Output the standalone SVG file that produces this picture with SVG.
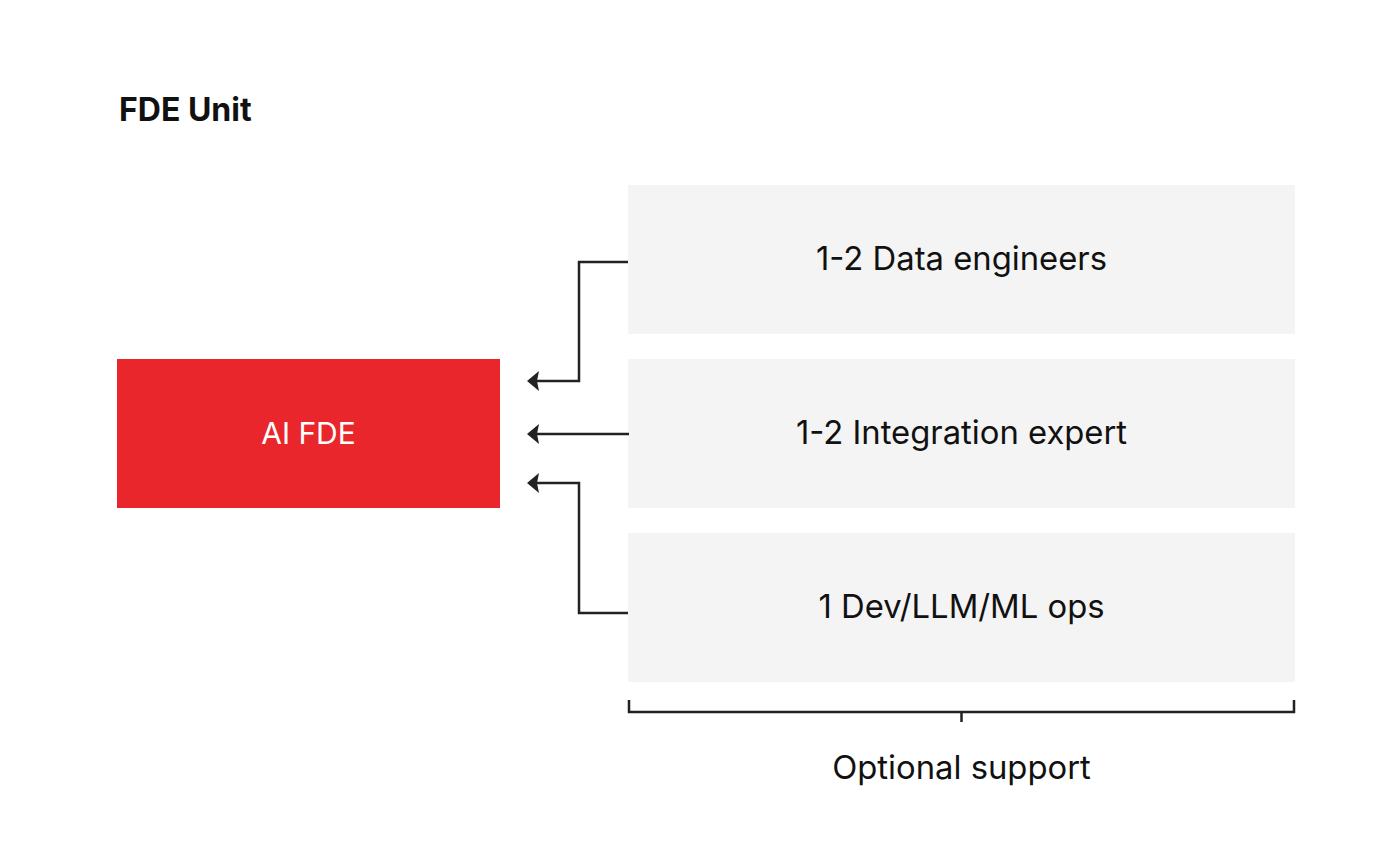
<svg xmlns="http://www.w3.org/2000/svg" xmlns:xlink="http://www.w3.org/1999/xlink" width="1373" height="863" viewBox="0 0 1373 863">
<style>
.box{fill:#f4f4f4}
.lbl{font-family:Inter,"Liberation Sans",sans-serif;font-size:32.8px;fill:#111;text-anchor:middle}
.conn{fill:none;stroke:#222;stroke-width:2.5}
.head{fill:#222}
</style>
<defs>
<path id="ah" class="head" d="M0,0 L12,-10 L10,0 L12,10 Z"/>
</defs>
<rect width="1373" height="863" fill="#fff"/>
<text x="119" y="121" font-family="Inter,'Liberation Sans',sans-serif" font-size="32" font-weight="700" fill="#111">FDE Unit</text>
<g id="ai-fde">
<rect x="117" y="359" width="383" height="149" fill="#e9262c"/>
<text x="308.5" y="444" font-family="Inter,'Liberation Sans',sans-serif" font-size="30" fill="#fff" text-anchor="middle">AI FDE</text>
</g>
<g id="data-engineers">
<rect class="box" x="628" y="185" width="667" height="149"/>
<text x="961.5" y="270" class="lbl">1-2 Data engineers</text>
</g>
<g id="integration-expert">
<rect class="box" x="628" y="359" width="667" height="149"/>
<text x="961.5" y="444" class="lbl">1-2 Integration expert</text>
</g>
<g id="devops">
<rect class="box" x="628" y="533" width="667" height="149"/>
<text x="961.5" y="618" class="lbl">1 Dev/LLM/ML ops</text>
</g>
<g id="connectors">
<path class="conn" d="M628,262 H579 V381 H534"/>
<use xlink:href="#ah" href="#ah" x="527" y="381"/>
<path class="conn" d="M629,434 H534"/>
<use xlink:href="#ah" href="#ah" x="527" y="434"/>
<path class="conn" d="M628,613 H579 V483 H534"/>
<use xlink:href="#ah" href="#ah" x="527" y="483"/>
</g>
<g id="optional-support">
<path class="conn" d="M629,700 V712 H1294 V700 M961.5,712 V722"/>
<text x="961.5" y="779" class="lbl">Optional support</text>
</g>
</svg>
